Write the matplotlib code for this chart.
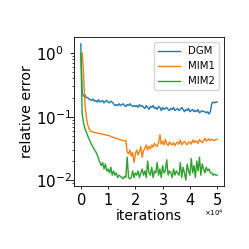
import numpy as np
import matplotlib
matplotlib.use("Agg")
import matplotlib.pyplot as plt
from matplotlib.ticker import MultipleLocator, ScalarFormatter

iterations = np.arange(0, 50001, 500)

dgm = [1.40, 0.24, 0.21, 0.22, 0.20, 0.20, 0.19, 0.185, 0.18, 0.19, 0.175,
       0.18, 0.17, 0.185, 0.17, 0.175, 0.18, 0.165, 0.175, 0.18, 0.17,
       0.165, 0.175, 0.17, 0.16, 0.15, 0.155, 0.15, 0.16, 0.15, 0.155,
       0.16, 0.15, 0.145, 0.155, 0.15, 0.16, 0.15, 0.145, 0.15, 0.145,
       0.15, 0.14, 0.155, 0.145, 0.15, 0.14, 0.135, 0.15, 0.14, 0.13,
       0.145, 0.14, 0.15, 0.135, 0.14, 0.13, 0.145, 0.14, 0.125, 0.14,
       0.13, 0.135, 0.14, 0.13, 0.125, 0.135, 0.13, 0.14, 0.125, 0.13,
       0.135, 0.125, 0.13, 0.14, 0.13, 0.12, 0.13, 0.125, 0.135, 0.12,
       0.125, 0.13, 0.12, 0.125, 0.12, 0.13, 0.115, 0.12, 0.125, 0.12,
       0.12, 0.115, 0.12, 0.11, 0.12, 0.16, 0.17, 0.165, 0.17, 0.17]

mim1 = [1.0, 1.0, 0.5, 0.16, 0.10, 0.075, 0.065, 0.06, 0.058, 0.057, 0.056,
        0.056, 0.055, 0.055, 0.054, 0.054, 0.053, 0.052, 0.052, 0.051, 0.051,
        0.050, 0.049, 0.048, 0.047, 0.046, 0.046, 0.045, 0.044, 0.043, 0.043,
        0.042, 0.042, 0.042, 0.028, 0.026, 0.030, 0.024, 0.027, 0.019, 0.026,
        0.030, 0.025, 0.028, 0.034, 0.023, 0.029, 0.032, 0.036, 0.030, 0.034,
        0.031, 0.036, 0.033, 0.038, 0.035, 0.034, 0.039, 0.052, 0.037, 0.041,
        0.036, 0.044, 0.038, 0.035, 0.040, 0.037, 0.036, 0.039, 0.035, 0.038,
        0.040, 0.037, 0.043, 0.036, 0.039, 0.041, 0.038, 0.036, 0.040, 0.039,
        0.037, 0.043, 0.039, 0.042, 0.040, 0.038, 0.044, 0.041, 0.039, 0.042,
        0.046, 0.041, 0.043, 0.045, 0.042, 0.044, 0.043, 0.042, 0.044, 0.044]

mim2 = [1.0, 0.11, 0.08, 0.065, 0.058, 0.050, 0.045, 0.040, 0.036, 0.033, 0.030,
        0.028, 0.025, 0.022, 0.019, 0.017, 0.019, 0.015, 0.018, 0.014, 0.015,
        0.013, 0.016, 0.012, 0.014, 0.012, 0.013, 0.011, 0.012, 0.0115, 0.011,
        0.0105, 0.0115, 0.011, 0.023, 0.011, 0.0105, 0.011, 0.014, 0.011, 0.013,
        0.012, 0.014, 0.011, 0.013, 0.015, 0.012, 0.014, 0.011, 0.020, 0.013,
        0.012, 0.016, 0.011, 0.014, 0.013, 0.019, 0.012, 0.015, 0.011, 0.017,
        0.013, 0.014, 0.021, 0.012, 0.014, 0.013, 0.011, 0.015, 0.012, 0.014,
        0.013, 0.012, 0.019, 0.011, 0.016, 0.013, 0.010, 0.018, 0.014, 0.012,
        0.022, 0.013, 0.017, 0.011, 0.020, 0.014, 0.023, 0.012, 0.018, 0.015,
        0.013, 0.016, 0.014, 0.015, 0.013, 0.013, 0.012, 0.0125, 0.012, 0.012]

fig = plt.figure(figsize=(2.49, 2.49), dpi=100)
ax = fig.add_axes([74/249, 63/249, 150/249, 149/249])
ax.plot(iterations, dgm, lw=1.0, label="DGM")
ax.plot(iterations, mim1, lw=1.0, label="MIM1")
ax.plot(iterations, mim2, lw=1.0, label="MIM2")
ax.set_yscale("log")
ax.set_ylim(0.0081, 1.8)
ax.set_xlim(-2500, 52500)
ax.xaxis.set_major_locator(MultipleLocator(10000))
fmt = ScalarFormatter(useMathText=True)
fmt.set_powerlimits((0, 0))
ax.xaxis.set_major_formatter(fmt)
ax.xaxis.get_offset_text().set_visible(False)
ax.text(0.995, -0.185, r"$\times10^{4}$", transform=ax.transAxes,
        ha="right", va="center", fontsize=5)
ax.tick_params(axis="x", labelsize=10.5, length=2.5, width=0.6, pad=1.5)
# y tick labels left-aligned starting ~37px from figure left
ax.tick_params(axis="y", labelsize=11, length=3, width=0.6, pad=24.5)
ax.tick_params(which="minor", length=1.5, width=0.5)
for lab in ax.get_yticklabels():
    lab.set_horizontalalignment("left")
ax.set_xlabel("iterations", fontsize=10, labelpad=1)
ax.set_ylabel("relative error", fontsize=10.3, labelpad=1)
ax.legend(fontsize=7.3, loc="upper right", handlelength=2.2)
for s in ax.spines.values():
    s.set_linewidth(0.6)
fig.savefig("out.png", dpi=100)
